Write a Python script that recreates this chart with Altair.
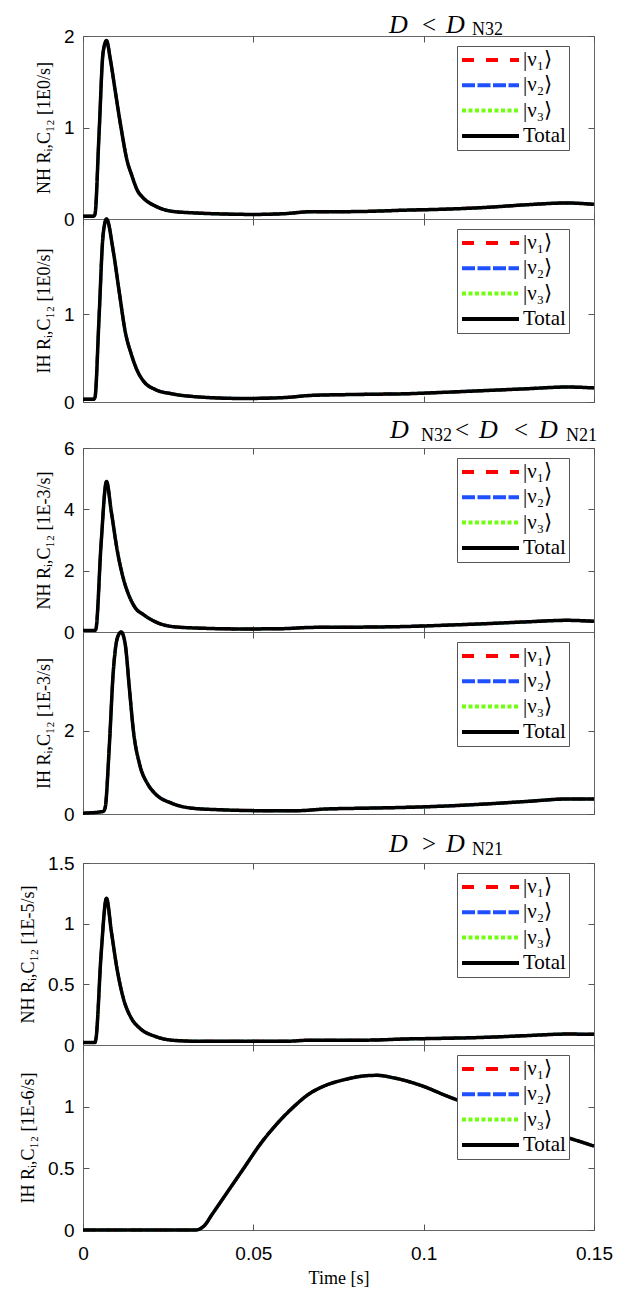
import altair as alt
import pandas as pd

SERIF = "Liberation Serif"
SANS = "Liberation Sans"
W = 511

SERIES = ["|ν₁⟩", "|ν₂⟩", "|ν₃⟩", "Total"]
COLORS = ["#ff0000", "#1e50ff", "#70ff10", "#000000"]
DASHES = [[12, 12], [13, 2.5], [4, 2.5], [1, 0]]
X_TICKS = [0, 0.05, 0.1, 0.15]

# ---- panel 1: NH, D < D_N32  [1E0/s]
t_p1 = [0, 0.003, 0.0035, 0.0047, 0.0059, 0.0069, 0.008, 0.0095, 0.0112, 0.013, 0.0142,
        0.016, 0.0177, 0.0213, 0.026, 0.033, 0.041, 0.05, 0.059, 0.067, 0.075, 0.083,
        0.095, 0.106, 0.118, 0.130, 0.142, 0.15]
tot_p1 = [0.03, 0.03, 0.05, 0.92, 1.82, 1.95, 1.75, 1.39, 0.99, 0.63, 0.49,
          0.31, 0.23, 0.14, 0.085, 0.066, 0.055, 0.05, 0.058, 0.08, 0.08, 0.083,
          0.097, 0.107, 0.126, 0.155, 0.175, 0.16]
# ---- panel 2: IH, D < D_N32  [1E0/s]
t_p2 = [0, 0.003, 0.0035, 0.0047, 0.0059, 0.0069, 0.0089, 0.0106, 0.0124, 0.0142, 0.016,
        0.0177, 0.0213, 0.026, 0.033, 0.047, 0.059, 0.067, 0.083, 0.095, 0.106, 0.118,
        0.130, 0.142, 0.15]
tot_p2 = [0.03, 0.03, 0.05, 0.95, 1.90, 2.08, 1.71, 1.26, 0.80, 0.54, 0.35,
          0.24, 0.14, 0.094, 0.06, 0.04, 0.05, 0.075, 0.087, 0.094, 0.11, 0.13,
          0.15, 0.17, 0.16]
# ---- panel 3: NH, D_N32 < D < D_N21  [1E-3/s]
t_p3 = [0, 0.0035, 0.0038, 0.0053, 0.0069, 0.0083, 0.0101, 0.0118, 0.0136, 0.0154, 0.0177,
        0.0213, 0.026, 0.033, 0.047, 0.059, 0.067, 0.083, 0.095, 0.106, 0.118, 0.130,
        0.142, 0.15]
tot_p3 = [0.05, 0.05, 0.1, 2.85, 4.91, 3.93, 2.63, 1.76, 1.16, 0.78, 0.57,
          0.33, 0.18, 0.13, 0.10, 0.11, 0.15, 0.16, 0.18, 0.22, 0.27, 0.33,
          0.38, 0.35]
# ---- panel 4: IH, D_N32 < D < D_N21  [1E-3/s]
t_p4 = [0, 0.0059, 0.0065, 0.0077, 0.0089, 0.0101, 0.0112, 0.0124, 0.0136, 0.0148, 0.0166,
        0.019, 0.0213, 0.026, 0.032, 0.041, 0.053, 0.063, 0.071, 0.083, 0.095, 0.106,
        0.118, 0.130, 0.142, 0.15]
tot_p4 = [0.02, 0.06, 0.15, 1.6, 3.44, 4.24, 4.38, 4.08, 3.04, 2.0, 1.2,
          0.72, 0.48, 0.26, 0.14, 0.10, 0.08, 0.08, 0.12, 0.14, 0.16, 0.19,
          0.24, 0.30, 0.36, 0.36]
# ---- panel 5: NH, D > D_N21  [1E-5/s]
t_p5 = [0, 0.0035, 0.0038, 0.0053, 0.0069, 0.0083, 0.0101, 0.0118, 0.0142, 0.0166, 0.0213,
        0.026, 0.035, 0.059, 0.067, 0.083, 0.095, 0.106, 0.118, 0.130, 0.142, 0.15]
tot_p5 = [0.02, 0.02, 0.05, 0.74, 1.21, 0.94, 0.61, 0.39, 0.22, 0.14, 0.07,
          0.04, 0.03, 0.03, 0.04, 0.04, 0.05, 0.055, 0.063, 0.077, 0.09, 0.088]
# ---- panel 6: IH, D > D_N21  [1E-6/s]
t_p6 = [0, 0.033, 0.0355, 0.0379, 0.0426, 0.0473, 0.052, 0.0568, 0.0615, 0.0662, 0.071,
        0.0769, 0.0828, 0.0864, 0.091, 0.0994, 0.1065, 0.115, 0.125, 0.135, 0.1467, 0.15]
tot_p6 = [0, 0, 0.032, 0.127, 0.316, 0.505, 0.695, 0.857, 0.99, 1.10, 1.17,
          1.22, 1.25, 1.254, 1.235, 1.17, 1.09, 1.0, 0.90, 0.81, 0.71, 0.68]

# the |nu_i> curves lie exactly under the Total curve in the picture
nu_p1, nu_p2, nu_p3 = list(tot_p1), list(tot_p2), list(tot_p3)
nu_p4, nu_p5, nu_p6 = list(tot_p4), list(tot_p5), list(tot_p6)

Y_TITLES = ["NH Rᵢ,C₁₂ [1E0/s]", "IH Rᵢ,C₁₂ [1E0/s]",
            "NH Rᵢ,C₁₂ [1E-3/s]", "IH Rᵢ,C₁₂ [1E-3/s]",
            "NH Rᵢ,C₁₂ [1E-5/s]", "IH Rᵢ,C₁₂ [1E-6/s]"]
Y_MAX = [2, 2.08, 6, 4.38, 1.5, 1.5]
Y_TICKS = [[0, 1, 2], [0, 1], [0, 2, 4, 6], [0, 2], [0, 0.5, 1, 1.5], [0, 0.5, 1]]
Y_TITLE_X = [-36, -36, -36, -36, -52, -52]

TITLE_1 = ["D", "<", "D", "N32"]
TITLE_2 = ["D", "N32", "<", "D", "<", "D", "N21"]
TITLE_3 = ["D", ">", "D", "N21"]
KINDS_1 = ["it", "op", "it", "sub"]
KINDS_2 = ["it", "sub", "op", "it", "op", "it", "sub"]
XPOS_1 = [306, 339, 363, 389]
XPOS_2 = [307, 338, 372, 396, 431, 456, 483]


def panel_df(t, nu, tot):
    rows = []
    for s in SERIES[:3]:
        for x, v in zip(t, nu):
            rows.append({"t": x, "v": v, "series": s})
    for x, v in zip(t, tot):
        rows.append({"t": x, "v": v, "series": "Total"})
    return pd.DataFrame(rows)


def legend():
    return alt.Legend(orient="none", legendX=374, legendY=10)


def panel(df, ymax, yticks, ytitle, title_x, height, bottom=False):
    xs = alt.Scale(domain=[0, 0.15], nice=False)
    ys = alt.Scale(domain=[0, ymax], nice=False)
    color = alt.Color("series:N", scale=alt.Scale(domain=SERIES, range=COLORS),
                      title=None, legend=legend())
    dash = alt.StrokeDash("series:N", scale=alt.Scale(domain=SERIES, range=DASHES),
                          title=None, legend=legend())
    if bottom:
        xaxis = alt.Axis(values=X_TICKS, format=".2~f", labelFlush=False, labelPadding=14,
                         title="Time [s]", titlePadding=6)
    else:
        xaxis = alt.Axis(values=X_TICKS, labels=False, title=None)
    yaxis = alt.Axis(values=yticks, format=".1~f", labelPadding=9, titleX=title_x,
                     title=ytitle, labelFlush=False)
    colored = alt.Chart(df[df.series != "Total"]).mark_line(
        strokeWidth=3, interpolate="monotone").encode(
        x=alt.X("t:Q", scale=xs, axis=xaxis),
        y=alt.Y("v:Q", scale=ys, axis=yaxis),
        color=color, strokeDash=dash)
    total = alt.Chart(df[df.series == "Total"]).mark_line(
        strokeWidth=3.5, interpolate="monotone").encode(
        x=alt.X("t:Q", scale=xs, axis=None),
        y=alt.Y("v:Q", scale=ys, axis=None),
        color=color, strokeDash=dash)
    frame = alt.Chart(df[df.series == "Total"]).mark_line(strokeOpacity=0).encode(
        x=alt.X("t:Q", scale=xs, axis=alt.Axis(orient="top", values=X_TICKS, labels=False, title=None)),
        y=alt.Y("v:Q", scale=ys, axis=alt.Axis(orient="right", values=yticks, labels=False, title=None)))
    return alt.layer(colored, total, frame).resolve_axis(
        x="independent", y="independent").properties(width=W, height=height)


def title_strip(pieces, kinds, xs, height, base, sub_base):
    layers = []
    for txt, kind, x in zip(pieces, kinds, xs):
        if kind == "sub":
            fs, style, y = 18, "normal", sub_base
        elif kind == "it":
            fs, style, y = 26, "italic", base
        else:
            fs, style, y = 25, "normal", base
        layers.append(alt.Chart(pd.DataFrame({"s": [txt]})).mark_text(
            align="left", baseline="alphabetic", font=SERIF, fontSize=fs,
            fontStyle=style, color="black").encode(
            text="s:N", x=alt.value(x), y=alt.value(y)))
    return alt.layer(*layers).properties(
        width=W, height=height, view=alt.ViewBackground(stroke="transparent"))


dfs = [panel_df(t_p1, nu_p1, tot_p1), panel_df(t_p2, nu_p2, tot_p2),
       panel_df(t_p3, nu_p3, tot_p3), panel_df(t_p4, nu_p4, tot_p4),
       panel_df(t_p5, nu_p5, tot_p5), panel_df(t_p6, nu_p6, tot_p6)]
heights = [183, 183, 184, 182, 182, 185]

panels = [panel(dfs[i], Y_MAX[i], Y_TICKS[i], Y_TITLES[i], Y_TITLE_X[i], heights[i],
                bottom=(i == 5)) for i in range(6)]

charts = [
    title_strip(TITLE_1, KINDS_1, XPOS_1, 27, 23.5, 25.5),
    panels[0], panels[1],
    title_strip(TITLE_2, KINDS_2, XPOS_2, 46, 36, 38.5),
    panels[2], panels[3],
    title_strip(TITLE_3, KINDS_1, XPOS_1, 49, 38, 40.5),
    panels[4], panels[5],
]

chart = alt.vconcat(*charts, spacing=0, bounds="flush").resolve_scale(
    color="independent", strokeDash="independent"
).properties(
    padding={"left": 10, "top": 0, "right": 5, "bottom": 0}
).configure_view(
    stroke="#666666", strokeWidth=1
).configure_axis(
    grid=False, domain=False, offset=-6, tickSize=6, tickColor="#555555", tickWidth=1,
    labelFont=SANS, labelFontSize=19, labelColor="black",
    titleFont=SERIF, titleFontSize=18, titleFontWeight="normal", titleColor="black"
).configure_legend(
    padding=3, strokeColor="#555555", fillColor="white", cornerRadius=0,
    symbolType="stroke", symbolSize=3249, symbolStrokeWidth=4, symbolOffset=0,
    clipHeight=22, rowPadding=3.3, labelOffset=2,
    labelFont=SERIF, labelFontSize=21, labelColor="black"
)

chart.save("out.html", embed_options={"renderer": "svg", "actions": False})
